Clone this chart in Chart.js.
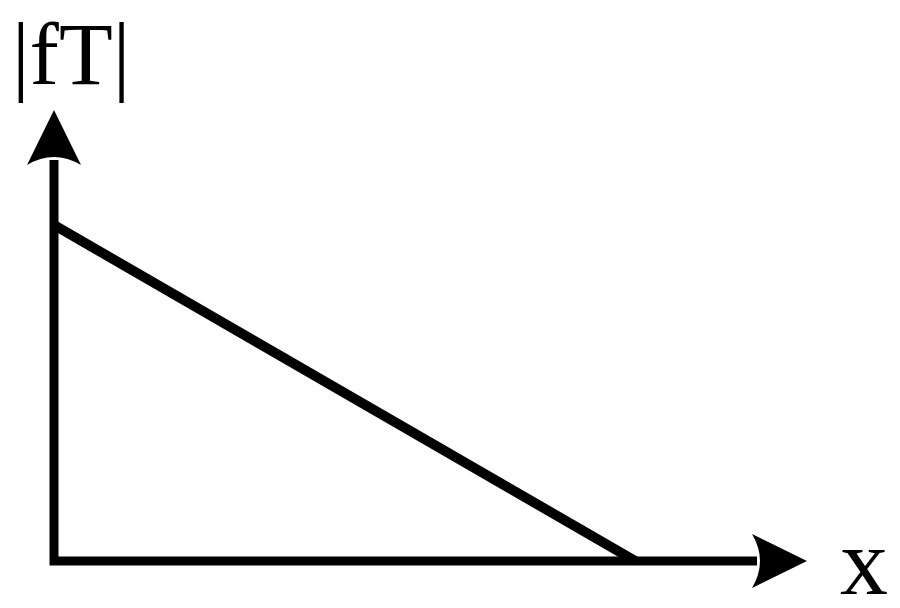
<!DOCTYPE html>
<html>
<head>
<meta charset="utf-8">
<script src="https://cdn.jsdelivr.net/npm/chart.js@4/dist/chart.umd.min.js"></script>
<style>
html,body{margin:0;padding:0;background:#fff;}
#wrap{width:900px;height:608px;}
</style>
</head>
<body>
<div id="wrap"><canvas id="diagram" width="900" height="608"></canvas></div>
<script>
// straight falloff of |fT| along x
const xValues = [0, 7.72];
const ftValues = [7.45, 0];
const axisMax = 10;
const yLabel = '|fT|';
const xLabel = 'x';

function arrowHead(ctx, tipX, tipY, dirX, dirY){
    // dir points along the axis toward the tip
    const len = 55, half = 27, notch = 8;
    const nx = -dirY, ny = dirX;
    const bx = tipX - dirX*len, by = tipY - dirY*len;
    ctx.beginPath();
    ctx.moveTo(tipX, tipY);
    ctx.lineTo(bx + nx*half, by + ny*half);
    ctx.quadraticCurveTo(bx + dirX*notch*2, by + dirY*notch*2, bx - nx*half, by - ny*half);
    ctx.closePath();
    ctx.fill();
}

const axesPlugin = {
    id:'axesArrows',
    afterDatasetsDraw(chart){
        const ctx = chart.ctx;
        const xs = chart.scales.x, ys = chart.scales.y;
        const x0 = xs.getPixelForValue(0), y0 = ys.getPixelForValue(0);
        const xTip = xs.getPixelForValue(axisMax), yTip = ys.getPixelForValue(axisMax);
        ctx.save();
        ctx.strokeStyle = '#000';
        ctx.fillStyle = '#000';
        ctx.lineWidth = 9;
        ctx.lineCap = 'butt';
        ctx.beginPath();
        ctx.moveTo(x0, y0 + 4.5);
        ctx.lineTo(x0, yTip + 50);
        ctx.moveTo(x0 - 4.5, y0);
        ctx.lineTo(xTip - 50, y0);
        ctx.stroke();
        arrowHead(ctx, x0, yTip, 0, -1);
        arrowHead(ctx, xTip, y0, 1, 0);
        ctx.font = '88px "Liberation Serif", "DejaVu Serif", serif';
        ctx.textBaseline = 'alphabetic';
        ctx.textAlign = 'left';
        ctx.fillText(yLabel, 12, 84);
        ctx.font = '96px "Liberation Serif", "DejaVu Serif", serif';
        ctx.fillText(xLabel, 840, 594);
        ctx.restore();
    }
};

new Chart(document.getElementById('diagram').getContext('2d'), {
    type:'scatter',
    data:{
        datasets:[{
            data:xValues.map((x,i)=>({x:x, y:ftValues[i]})),
            showLine:true,
            borderColor:'#000',
            borderWidth:10,
            pointRadius:0,
            borderCapStyle:'butt',
            clip:false
        }]
    },
    options:{
        responsive:false,
        animation:false,
        layout:{padding:{left:54, right:93, top:110, bottom:47}},
        scales:{
            x:{type:'linear', min:0, max:axisMax, display:false},
            y:{type:'linear', min:0, max:axisMax, display:false}
        },
        plugins:{legend:{display:false}, tooltip:{enabled:false}}
    },
    plugins:[axesPlugin]
});
</script>
</body>
</html>
